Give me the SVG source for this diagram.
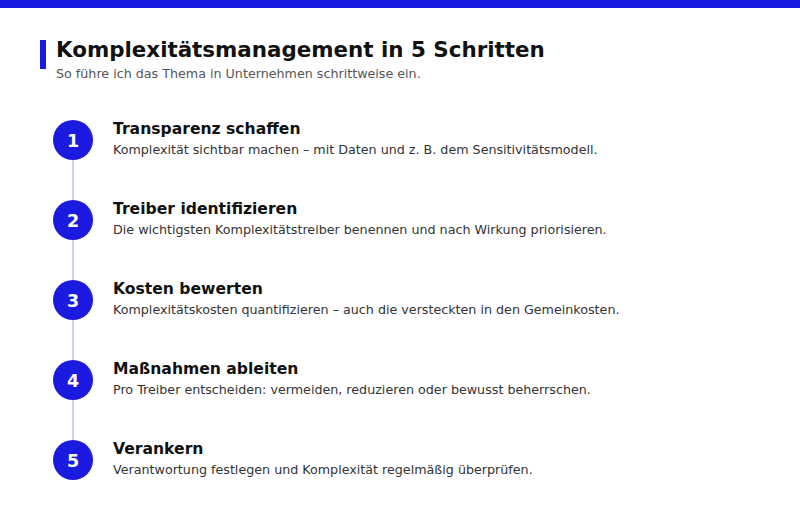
<svg xmlns="http://www.w3.org/2000/svg" width="800" height="507" viewBox="0 0 800 507">
<style>
.title{font-family:"DejaVu Sans",sans-serif;font-weight:bold;font-size:21.4px;fill:#111}
.sub{font-family:"DejaVu Sans",sans-serif;font-size:12.7px;fill:#555}
.num{font-family:"DejaVu Sans",sans-serif;font-weight:bold;font-size:17.5px;fill:#fff;text-anchor:middle}
.st{font-family:"DejaVu Sans",sans-serif;font-weight:bold;font-size:15.6px;fill:#111}
.sd{font-family:"DejaVu Sans",sans-serif;font-size:12.7px;fill:#333}
.c{fill:#1a1ae0}
</style>
<rect x="0" y="0" width="800" height="507" fill="#fff"/>
<rect x="0" y="0" width="800" height="8" fill="#1a1ae0"/>
<rect x="40" y="40" width="6" height="29" fill="#1a1ae0"/>
<text class="title" x="56" y="57">Komplexitätsmanagement in 5 Schritten</text>
<text class="sub" x="56" y="78">So führe ich das Thema in Unternehmen schrittweise ein.</text>
<g id="connectors">
<line x1="73" y1="140" x2="73" y2="460" stroke="#d0d2ea" stroke-width="2"/>
</g>
<g id="step1"><circle class="c" cx="73" cy="140" r="20"/><text class="num" x="73" y="146.5">1</text><text class="st" x="113" y="134">Transparenz schaffen</text><text class="sd" x="113" y="154">Komplexität sichtbar machen – mit Daten und z. B. dem Sensitivitätsmodell.</text></g>
<g id="step2"><circle class="c" cx="73" cy="220" r="20"/><text class="num" x="73" y="226.5">2</text><text class="st" x="113" y="214">Treiber identifizieren</text><text class="sd" x="113" y="234">Die wichtigsten Komplexitätstreiber benennen und nach Wirkung priorisieren.</text></g>
<g id="step3"><circle class="c" cx="73" cy="300" r="20"/><text class="num" x="73" y="306.5">3</text><text class="st" x="113" y="294">Kosten bewerten</text><text class="sd" x="113" y="314">Komplexitätskosten quantifizieren – auch die versteckten in den Gemeinkosten.</text></g>
<g id="step4"><circle class="c" cx="73" cy="380" r="20"/><text class="num" x="73" y="386.5">4</text><text class="st" x="113" y="374">Maßnahmen ableiten</text><text class="sd" x="113" y="394">Pro Treiber entscheiden: vermeiden, reduzieren oder bewusst beherrschen.</text></g>
<g id="step5"><circle class="c" cx="73" cy="460" r="20"/><text class="num" x="73" y="466.5">5</text><text class="st" x="113" y="454">Verankern</text><text class="sd" x="113" y="474">Verantwortung festlegen und Komplexität regelmäßig überprüfen.</text></g>
</svg>
